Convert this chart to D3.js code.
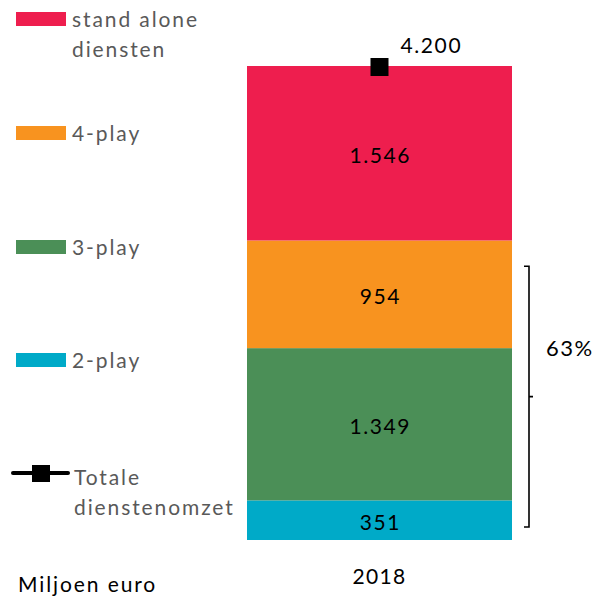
<!DOCTYPE html>
<html>
<head>
<meta charset="utf-8">
<script src="https://cdn.jsdelivr.net/npm/d3@7"></script>
<style>
  html, body { margin: 0; padding: 0; background: #fff; }
  svg text { font-family: "Lato", "Open Sans", sans-serif; }
</style>
</head>
<body>
<svg id="chart" width="595" height="600"></svg>
<script>
// Dienstenomzet per bundeltype, 2018 (miljoen euro)
const categories = ["2018"];
const seriesNames = ["2-play", "3-play", "4-play", "stand alone diensten"];
const seriesValues = {
  "2-play": [351],
  "3-play": [1349],
  "4-play": [954],
  "stand alone diensten": [1546]
};
const totals = [4200];
const valueLabels = {
  "2-play": ["351"],
  "3-play": ["1.349"],
  "4-play": ["954"],
  "stand alone diensten": ["1.546"]
};
const totalLabels = ["4.200"];
const shareLabel = "63%";
const colors = {
  "2-play": "#00AAC8",
  "3-play": "#4B8F57",
  "4-play": "#F8931F",
  "stand alone diensten": "#EE1E4E"
};

const FS = 21;        // base font size
const LS = 1.9;       // letter spacing for word labels
const NLS = 1.6;      // letter spacing for numbers

const svg = d3.select("#chart");

const x = d3.scaleBand().domain(categories).range([247, 512]).padding(0);
const y = d3.scaleLinear().domain([0, d3.max(totals)]).range([540, 66]);

// stacked data
const rows = categories.map((c, i) => {
  const r = { cat: c };
  seriesNames.forEach(s => r[s] = seriesValues[s][i]);
  return r;
});
const stacked = d3.stack().keys(seriesNames)(rows);

const layers = svg.append("g").selectAll("g")
  .data(stacked).join("g")
  .attr("fill", d => colors[d.key]);

layers.selectAll("rect")
  .data(d => d.map(p => ({ p, key: d.key })))
  .join("rect")
  .attr("x", d => x(d.p.data.cat))
  .attr("width", x.bandwidth())
  .attr("y", d => y(d.p[1]))
  .attr("height", d => y(d.p[0]) - y(d.p[1]));

// segment value labels
layers.selectAll("text")
  .data(d => d.map((p, i) => ({ p, key: d.key, i })))
  .join("text")
  .attr("x", d => x(d.p.data.cat) + x.bandwidth() / 2 + NLS / 2)
  .attr("y", d => (y(d.p[0]) + y(d.p[1])) / 2 + 10)
  .attr("text-anchor", "middle")
  .attr("font-size", FS)
  .attr("letter-spacing", NLS)
  .attr("fill", "#000")
  .text(d => valueLabels[d.key][d.i]);

// total marker
const totData = categories.map((c, i) => ({ c, v: totals[i], i }));
const totG = svg.append("g");
totG.selectAll("rect")
  .data(totData)
  .join("rect")
  .attr("x", d => x(d.c) + x.bandwidth() / 2 - 9)
  .attr("y", d => y(d.v) - 8)
  .attr("width", 18).attr("height", 18)
  .attr("fill", "#000");
totG.selectAll("text")
  .data(totData)
  .join("text")
  .attr("x", d => x(d.c) + x.bandwidth() / 2 + 21)
  .attr("y", d => y(d.v) - 13)
  .attr("font-size", FS)
  .attr("letter-spacing", NLS)
  .attr("fill", "#000")
  .text(d => totalLabels[d.i]);

// category axis label
svg.append("g")
  .attr("transform", "translate(0,540)")
  .call(d3.axisBottom(x).tickSize(0).tickPadding(0))
  .call(g => g.select(".domain").remove())
  .call(g => g.selectAll("text")
    .attr("font-size", FS)
    .attr("letter-spacing", 1.3)
    .attr("fill", "#000")
    .attr("dy", null)
    .attr("y", 44)
    .style("font-family", "Lato, 'Open Sans', sans-serif"));

// bracket for the bundle share
const bracketTop = y(2425), bracketBottom = y(115), bracketMid = y(1270);
const bx = 529;
svg.append("path")
  .attr("d", `M${bx - 5},${bracketTop} H${bx} V${bracketBottom} H${bx - 5} M${bx},${bracketMid} H${bx + 4}`)
  .attr("fill", "none")
  .attr("stroke", "#000")
  .attr("stroke-width", 1.6);
svg.append("text")
  .attr("x", 546).attr("y", 356)
  .attr("font-size", 22)
  .attr("letter-spacing", 1.5)
  .attr("fill", "#000")
  .text(shareLabel);

// legend
const legendItems = [
  { key: "stand alone diensten", lines: ["stand alone", "diensten"], top: 12 },
  { key: "4-play", lines: ["4-play"], top: 126 },
  { key: "3-play", lines: ["3-play"], top: 240 },
  { key: "2-play", lines: ["2-play"], top: 353 }
];
const lg = svg.append("g");
const li = lg.selectAll("g").data(legendItems).join("g");
li.append("rect")
  .attr("x", 16).attr("y", d => d.top)
  .attr("width", 50).attr("height", 14)
  .attr("fill", d => colors[d.key]);
li.append("text")
  .attr("x", 72).attr("y", d => d.top + 15)
  .attr("font-size", FS)
  .attr("letter-spacing", LS)
  .attr("fill", "#595959")
  .selectAll("tspan").data(d => d.lines).join("tspan")
  .attr("x", 72)
  .attr("dy", (d, i) => i === 0 ? 0 : 30)
  .text(d => d);

// total legend entry
const tl = lg.append("g");
tl.append("line")
  .attr("x1", 13).attr("x2", 68).attr("y1", 473).attr("y2", 473)
  .attr("stroke", "#000").attr("stroke-width", 4).attr("stroke-linecap", "round");
tl.append("rect")
  .attr("x", 32).attr("y", 465).attr("width", 18).attr("height", 17)
  .attr("fill", "#000");
tl.append("text")
  .attr("x", 74).attr("y", 485)
  .attr("font-size", FS)
  .attr("letter-spacing", LS)
  .attr("fill", "#595959")
  .selectAll("tspan").data(["Totale", "dienstenomzet"]).join("tspan")
  .attr("x", 74)
  .attr("dy", (d, i) => i === 0 ? 0 : 30)
  .text(d => d);

// unit label
svg.append("text")
  .attr("x", 18).attr("y", 592)
  .attr("font-size", FS)
  .attr("letter-spacing", LS)
  .attr("fill", "#000")
  .text("Miljoen euro");
</script>
</body>
</html>
